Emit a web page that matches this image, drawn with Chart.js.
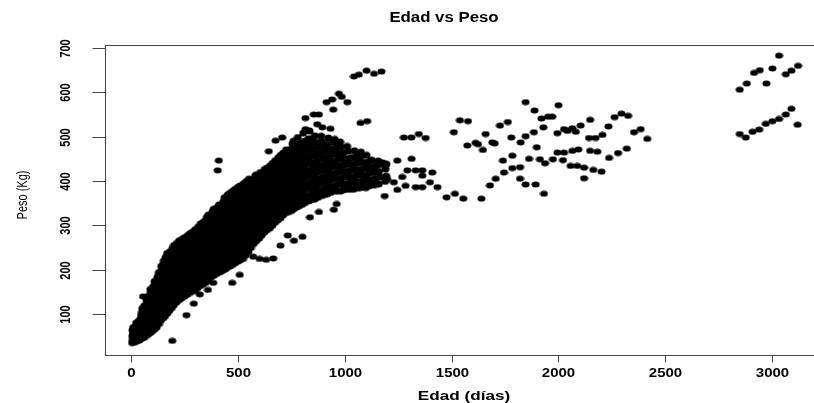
<!DOCTYPE html>
<html><head><meta charset="utf-8">
<script src="https://cdn.jsdelivr.net/npm/chart.js@4.4.1/dist/chart.umd.min.js"></script>
<style>
html,body{margin:0;padding:0;background:#fff;overflow:hidden;width:814px;height:403px;}
#wrap{position:relative;width:830px;height:403px;}
</style></head><body>
<div id="wrap"><canvas id="c" width="830" height="403"></canvas></div>
<script>
const titulo = 'Edad vs Peso';
const etiquetaX = 'Edad (días)';
const etiquetaY = 'Peso (Kg)';
const ticksX = [0, 500, 1000, 1500, 2000, 2500, 3000];
const ticksY = [100, 200, 300, 400, 500, 600, 700];

const tramoJoven = [
[3,35],[7,42],[4,50],[9,57],[5,63],[8,69],
[18,37],[21,46],[16,53],[23,61],[19,71],[22,79],
[38,41],[43,49],[39,60],[44,68],[36,78],[41,87],[45,96],
[58,47],[63,57],[59,69],[64,78],[56,90],[61,99],[65,108],[60,118],
[78,54],[83,66],[79,75],[84,88],[76,97],[81,110],[85,119],[80,131],[77,139],
[98,62],[103,72],[99,86],[104,95],[96,108],[101,121],[105,131],[100,145],[97,152],[102,161],
[118,70],[123,85],[119,95],[124,109],[116,120],[121,134],[125,145],[120,159],[117,170],[122,183],
[138,86],[143,97],[139,112],[144,123],[136,138],[141,149],[145,164],[140,175],[137,190],[142,197],[139,207],
[158,96],[163,111],[159,123],[164,138],[156,149],[161,165],[165,176],[160,192],[157,203],[162,217],[159,227],
[178,108],[183,120],[179,136],[184,147],[176,163],[181,175],[185,190],[180,202],[177,217],[182,228],[179,240],
[198,120],[203,136],[199,147],[204,163],[196,174],[201,190],[205,201],[200,217],[197,228],[202,244],[199,254],
[223,132],[228,144],[224,159],[229,171],[221,186],[226,198],[230,213],[225,225],[222,240],[227,251],[224,265],
[248,140],[253,156],[249,167],[254,183],[246,194],[251,210],[255,221],[250,237],[247,248],[252,263],[249,272],
[273,148],[278,160],[274,176],[279,188],[271,204],[276,215],[280,231],[275,242],[272,257],[277,268],[274,281]
];

const tramoJovenB = [
[11,39],[13,48],[10,56],[14,65],
[29,40],[31,48],[28,57],[32,65],[30,74],[33,83],
[49,45],[51,54],[48,64],[52,73],[50,83],[53,93],[49,103],[51,112],
[69,51],[71,62],[68,73],[72,84],[70,94],[73,104],[69,114],[71,124],[70,133],
[89,58],[91,69],[88,81],[92,91],[90,103],[93,115],[89,125],[91,138],[90,147],[88,155],
[109,66],[111,78],[108,90],[112,102],[110,114],[113,127],[109,139],[111,152],[110,164],[108,173],
[129,78],[131,91],[128,104],[132,116],[130,129],[133,142],[129,155],[131,168],[130,181],[128,193],
[149,91],[151,104],[148,117],[152,130],[150,143],[153,157],[149,170],[151,183],[150,196],[148,210],[151,219],
[169,102],[171,116],[168,129],[172,142],[170,156],[173,170],[169,184],[171,197],[170,210],[168,222],[171,233],
[189,114],[191,128],[188,142],[192,155],[190,169],[193,182],[189,196],[191,209],[190,222],[188,236],[191,247],
[210,126],[212,140],[209,153],[213,167],[211,180],[214,194],[210,208],[212,221],[211,234],[209,247],[212,259],
[235,136],[237,150],[234,164],[238,177],[236,191],[239,204],[235,218],[237,232],[236,245],[234,257],[237,268],
[260,144],[262,158],[259,172],[263,185],[261,199],[264,212],[260,226],[262,240],[261,253],[259,265],[262,276],
[285,151],[287,165],[284,179],[288,192],[286,206],[289,220],[285,233],[287,247],[286,261],[284,273],[287,285]
];

const tramoMedio = [
[298,154],[303,170],[299,182],[304,198],[296,210],[301,226],[305,238],[300,253],[297,264],[302,279],[299,290],
[323,164],[328,176],[324,192],[329,204],[321,220],[326,232],[330,248],[325,260],[322,276],[327,288],[324,303],
[348,171],[353,187],[349,199],[354,215],[346,227],[351,243],[355,255],[350,271],[347,283],[352,299],[349,310],[353,318],
[373,184],[378,196],[374,212],[379,224],[371,240],[376,252],[380,268],[375,280],[372,296],[377,308],[374,323],[379,330],
[398,191],[403,203],[399,219],[404,231],[396,247],[401,259],[405,275],[400,287],[397,303],[402,315],[399,331],[404,341],
[423,197],[428,213],[424,225],[429,241],[421,253],[426,269],[430,281],[425,297],[422,309],[427,325],[424,337],[429,352],
[448,205],[453,217],[449,233],[454,245],[446,261],[451,273],[455,289],[450,301],[447,317],[452,329],[449,345],[454,356],[450,368],
[473,211],[478,227],[474,239],[479,255],[471,267],[476,283],[480,295],[475,311],[472,323],[477,339],[474,351],[479,366],[475,377],
[498,219],[503,231],[499,247],[504,259],[496,275],[501,287],[505,303],[500,315],[497,331],[502,343],[499,359],[504,371],[500,386],
[523,225],[528,241],[524,253],[529,269],[521,281],[526,297],[530,309],[525,325],[522,337],[527,353],[524,365],[529,381],[525,393],
[548,241],[553,253],[549,269],[554,281],[546,297],[551,309],[555,325],[550,337],[547,353],[552,365],[549,381],[554,392],[550,404],
[573,259],[578,271],[574,287],[579,299],[571,315],[576,327],[580,343],[575,355],[572,371],[577,383],[574,399],[579,411],
[598,271],[603,287],[599,299],[604,315],[596,327],[601,343],[605,355],[600,371],[597,383],[602,399],[599,409],[604,419],
[623,285],[628,297],[624,313],[629,325],[621,341],[626,353],[630,369],[625,381],[622,397],[627,409],[624,426],
[648,294],[653,310],[649,322],[654,338],[646,350],[651,366],[655,378],[650,394],[647,406],[652,422],[649,434],
[673,307],[678,319],[674,335],[679,347],[671,363],[676,375],[680,391],[675,403],[672,419],[677,431],[674,446]
];

const tramoMedioB = [
[310,159],[312,173],[309,187],[313,201],[311,215],[314,229],[310,243],[312,257],[311,270],[309,283],[312,296],
[335,167],[337,181],[334,195],[338,209],[336,223],[339,237],[335,251],[337,265],[336,279],[334,293],[337,307],
[360,177],[362,191],[359,205],[363,219],[361,233],[364,247],[360,261],[362,275],[361,289],[359,303],[362,315],[360,323],
[385,187],[387,201],[384,215],[388,229],[386,243],[389,257],[385,271],[387,285],[386,299],[384,313],[387,327],[385,336],
[410,194],[412,208],[409,222],[413,236],[411,250],[414,264],[410,278],[412,292],[411,306],[409,320],[412,334],[410,346],
[435,201],[437,215],[434,229],[438,243],[436,257],[439,271],[435,285],[437,299],[436,313],[434,327],[437,341],[435,355],[436,362],
[460,208],[462,222],[459,236],[463,250],[461,264],[464,278],[460,292],[462,306],[461,320],[459,334],[462,348],[460,361],[461,372],
[485,215],[487,229],[484,243],[488,257],[486,271],[489,285],[485,299],[487,313],[486,327],[484,341],[487,355],[485,369],[486,381],
[510,222],[512,236],[509,250],[513,264],[511,278],[514,292],[510,306],[512,320],[511,334],[509,348],[512,362],[510,376],[511,389],
[535,233],[537,247],[534,261],[538,275],[536,289],[539,303],[535,317],[537,331],[536,345],[534,359],[537,373],[535,387],[536,398],
[560,250],[562,264],[559,278],[563,292],[561,306],[564,320],[560,334],[562,348],[561,362],[559,376],[562,390],[560,402],
[585,265],[587,279],[584,293],[588,307],[586,321],[589,335],[585,349],[587,363],[586,377],[584,391],[587,405],[585,414],
[610,278],[612,292],[609,306],[613,320],[611,334],[614,348],[610,362],[612,376],[611,390],[609,404],[612,416],
[635,290],[637,304],[634,318],[638,332],[636,346],[639,360],[635,374],[637,388],[636,402],[634,416],[637,429],
[660,300],[662,314],[659,328],[663,342],[661,356],[664,370],[660,384],[662,398],[661,412],[659,426],[662,440],
[685,312],[687,326],[684,340],[688,354],[686,368],[689,382],[685,396],[687,410],[686,424],[684,438],[687,452]
];

const tramoAdulto = [
[698,317],[703,333],[699,345],[704,361],[696,373],[701,389],[705,401],[700,417],[697,429],[702,445],[699,458],
[723,329],[728,341],[724,357],[729,369],[721,385],[726,397],[730,413],[725,425],[722,441],[727,454],[724,470],
[748,333],[753,349],[749,361],[754,377],[746,389],[751,405],[755,417],[750,433],[747,445],[752,461],[749,471],[754,484],
[773,341],[778,353],[774,369],[779,381],[771,397],[776,409],[780,425],[775,437],[772,453],[777,465],[774,481],[779,498],
[798,347],[803,363],[799,375],[804,391],[796,403],[801,419],[805,431],[800,447],[797,459],[802,475],[799,487],[804,508],
[828,355],[833,367],[829,383],[834,395],[826,411],[831,423],[835,439],[830,451],[827,467],[832,479],[829,495],[834,513],
[858,359],[863,375],[859,387],[864,403],[856,415],[861,431],[865,443],[860,459],[857,471],[862,487],[859,502],
[888,367],[893,379],[889,395],[894,407],[886,423],[891,435],[895,451],[890,463],[887,479],[892,489],[889,501],
[918,371],[923,387],[919,399],[924,415],[916,427],[921,443],[925,455],[920,471],[917,483],[922,497],
[948,377],[953,389],[949,405],[954,417],[946,433],[951,445],[955,461],[950,473],[947,487],[952,494],
[978,377],[983,393],[979,405],[984,421],[976,433],[981,449],[985,461],[980,477],[977,488],
[1008,381],[1013,393],[1009,409],[1014,421],[1006,437],[1011,449],[1015,467],[1010,478],
[1038,381],[1043,397],[1039,409],[1044,425],[1036,437],[1041,453],[1045,468],
[1068,385],[1073,397],[1069,413],[1074,425],[1066,441],[1071,453],[1075,465],
[1098,385],[1103,401],[1099,413],[1104,429],[1096,441],[1101,458],
[1128,391],[1133,403],[1129,419],[1134,431],[1126,447],
[1158,393],[1163,409],[1159,421],[1164,437],[1156,445],
[1188,399],[1193,411],[1189,427],[1194,438]
];

const tramoAdultoB = [
[710,323],[712,337],[709,351],[713,365],[711,379],[714,393],[710,407],[712,421],[711,435],[709,449],[712,463],
[735,331],[737,345],[734,359],[738,373],[736,387],[739,401],[735,415],[737,429],[736,443],[734,457],[737,470],
[760,337],[762,351],[759,365],[763,379],[761,393],[764,407],[760,421],[762,435],[761,449],[759,463],[762,476],[760,490],
[785,344],[787,358],[784,372],[788,386],[786,400],[789,414],[785,428],[787,442],[786,456],[784,470],[787,484],
[812,351],[814,365],[811,379],[815,393],[813,407],[816,421],[812,435],[814,449],[813,463],[811,477],[814,490],
[842,357],[844,371],[841,385],[845,399],[843,413],[846,427],[842,441],[844,455],[843,469],[841,483],[844,495],
[872,363],[874,377],[871,391],[875,405],[873,419],[876,433],[872,447],[874,461],[873,475],[871,486],
[902,369],[904,383],[901,397],[905,411],[903,425],[906,439],[902,453],[904,467],[903,480],
[932,374],[934,388],[931,402],[935,416],[933,430],[936,444],[932,458],[934,472],
[962,378],[964,392],[961,406],[965,420],[963,434],[966,448],[962,462],[964,475],
[992,380],[994,394],[991,408],[995,422],[993,436],[996,450],[992,464],
[1022,382],[1024,396],[1021,410],[1025,424],[1023,438],[1026,452],
[1052,384],[1054,398],[1051,412],[1055,426],[1053,440],[1056,455],
[1082,386],[1084,400],[1081,414],[1085,428],[1083,442],
[1112,389],[1114,403],[1111,417],[1115,431],[1113,444],
[1142,392],[1144,406],[1141,420],[1145,434]
];

const puntosDispersos = [
[54,139],[191,39],[258,97],[292,123],[320,144],[358,154],[383,170],[472,170],[507,188],[409,195],[440,201],[167,237],
[570,229],[600,224],[631,222],[664,225],[698,254],[732,277],[761,265],[801,274],[836,318],[878,330],[948,335],[961,348],
[409,446],[404,424],[643,467],[675,491],[706,498],
[815,542],[815,517],[854,550],[878,550],[870,528],[894,521],[932,518],[914,578],[940,584],[945,561],[972,597],[1011,578],[985,590],
[1073,531],[1104,535],[1042,636],[1065,640],[1101,649],[1136,642],[1171,647],[1186,366]
];

const tramoViejo = [
[1276,498],[1311,498],[1346,506],[1378,497],[1312,450],[1245,446],[1175,442],
[1292,424],[1331,424],[1362,424],[1409,419],[1362,412],[1398,397],[1433,386],[1362,386],[1331,386],[1284,389],[1245,380],[1229,397],[1198,404],[1268,409],
[1476,363],[1515,371],[1554,360],[1639,360],
[1510,510],[1538,537],[1576,535],[1573,480],[1612,486],[1623,483],[1646,470],[1659,506],[1690,487],[1701,485],
[1726,525],[1763,533],[1779,498],[1823,487],[1846,501],
[1740,446],[1784,457],[1784,429],[1820,431],[1745,419],[1706,405],[1820,405],[1679,390],[1846,392],[1893,392],[1932,371],
[1846,578],[2000,571],[1888,559],[1920,541],[1951,545],[1971,545],[1929,521],[1885,510],[1898,476],
[1862,450],[1913,449],[1937,440],[1974,449],[2021,447],
[1995,508],[2026,517],[2042,513],[2065,519],[2081,511],[2104,525],[2148,538],
[1995,464],[2026,464],[2065,468],[2093,471],
[2143,497],[2174,497],[2206,504],[2148,468],[2182,466],
[2057,434],[2088,434],[2120,430],[2163,425],[2202,421],[2120,406],
[2234,523],[2263,544],[2295,552],[2326,547],[2354,510],[2385,517],[2416,495],
[2237,452],[2279,463],[2320,473]
];

const tramoMayor = [
[3033,683],[2916,644],[2943,650],[3002,654],[3122,660],[3091,649],[3065,641],[2882,620],[2974,620],[2849,606],
[3091,563],[3065,550],[3033,540],[3002,535],[2971,529],[3120,527],[2940,516],[2909,511],[2849,506],[2877,498]
];

const aPuntos = arr => arr.map(p => ({x: p[0], y: p[1]}));
const puntosDensos = aPuntos([].concat(tramoJoven, tramoJovenB, tramoMedio, tramoMedioB, tramoAdulto, tramoAdultoB));
const puntosSueltos = aPuntos([].concat(puntosDispersos, tramoViejo, tramoMayor));

function crearPunto(w, h) {
  const c = document.createElement('canvas');
  c.width = w; c.height = h;
  const g = c.getContext('2d'); g.fillStyle = '#000';
  g.beginPath(); g.ellipse(w / 2, h / 2, w / 2 - 0.5, h / 2 - 0.5, 0, 0, Math.PI * 2); g.fill();
  return c;
}
const puntoDenso = crearPunto(9, 8);
const puntoSuelto = crearPunto(9, 7);

const FUENTE = '"Liberation Sans", Arial, sans-serif';
function texto(ctx, str, x, y, font, rot, sx) {
  ctx.save();
  ctx.translate(x, y);
  ctx.scale(sx, 1);
  if (rot) ctx.rotate(rot);
  ctx.font = font;
  ctx.textAlign = 'center';
  ctx.textBaseline = 'middle';
  ctx.fillStyle = '#000';
  ctx.fillText(str, 0, 0);
  ctx.restore();
}
function linea(ctx, x1, y1, x2, y2) {
  ctx.beginPath(); ctx.moveTo(x1, y1); ctx.lineTo(x2, y2); ctx.stroke();
}

const ejesR = {
  id: 'ejesR',
  afterDraw(chart) {
    const ctx = chart.ctx, a = chart.chartArea, sx = chart.scales.x, sy = chart.scales.y;
    ctx.save();
    ctx.strokeStyle = '#444';
    ctx.lineWidth = 1;
    const L = Math.round(a.left) + 0.5, T = Math.round(a.top) + 0.5;
    const R = Math.round(a.right) + 0.5, B = Math.round(a.bottom) + 0.5;
    ctx.strokeRect(L, T, R - L, B - T);
    ticksX.forEach(v => {
      const px = Math.round(sx.getPixelForValue(v)) + 0.5;
      linea(ctx, px, B, px, B + 7);
      texto(ctx, String(v), px, B + 18, 'bold 12px ' + FUENTE, 0, 1.25);
    });
    ticksY.forEach(v => {
      const py = Math.round(sy.getPixelForValue(v)) + 0.5;
      linea(ctx, L - 13, py, L, py);
      texto(ctx, String(v), L - 39, py, 'bold 11px ' + FUENTE, -Math.PI / 2, 1.25);
    });
    const cx = (a.left + a.right) / 2;
    texto(ctx, titulo, cx - 20, 18, 'bold 14px ' + FUENTE, 0, 1.2);
    texto(ctx, etiquetaX, cx, 396, 'bold 13px ' + FUENTE, 0, 1.32);
    texto(ctx, etiquetaY, 23, 195, '11px ' + FUENTE, -Math.PI / 2, 1.25);
    ctx.restore();
  }
};

new Chart(document.getElementById('c'), {
  type: 'scatter',
  data: { datasets: [
    { label: 'Peso', data: puntosDensos, pointStyle: puntoDenso, pointRadius: 3, backgroundColor: '#000', borderColor: '#000' },
    { label: 'Peso ', data: puntosSueltos, pointStyle: puntoSuelto, pointRadius: 3, backgroundColor: '#000', borderColor: '#000' }
  ]},
  options: {
    responsive: false,
    animation: false,
    devicePixelRatio: 1,
    layout: { padding: { left: 105, right: 7, top: 45, bottom: 48 } },
    plugins: { legend: { display: false }, tooltip: { enabled: false }, title: { display: false } },
    scales: {
      x: { type: 'linear', min: -124, max: 3239, display: false },
      y: { type: 'linear', min: 7, max: 707, display: false }
    }
  },
  plugins: [ejesR]
});
</script>
</body></html>
